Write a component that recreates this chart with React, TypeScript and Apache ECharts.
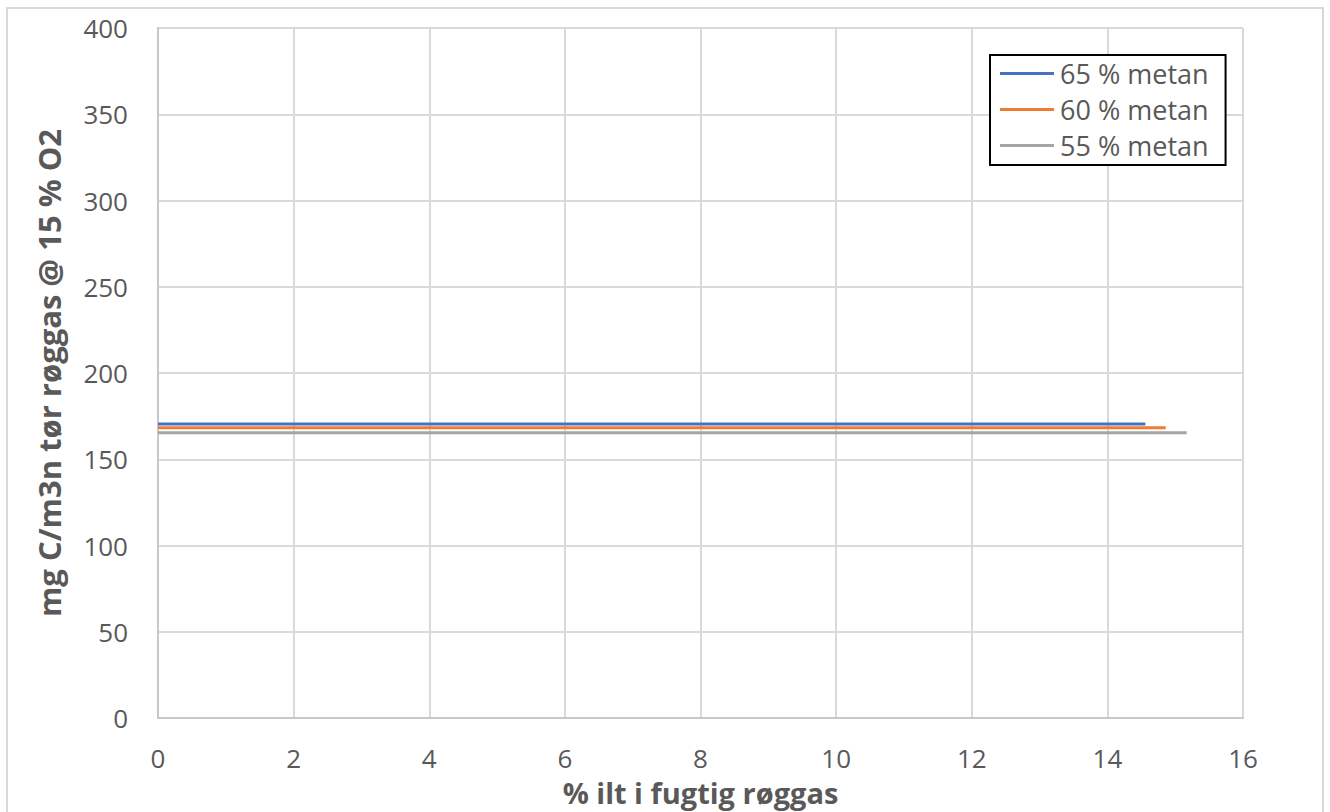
import React, { useEffect, useRef } from "react";
import * as echarts from "echarts";

const seriesNames = ["65 % metan", "60 % metan", "55 % metan"];
const seriesColors = ["#4472C4", "#ED7D31", "#A5A5A5"];
const xStart = [0, 0, 0];
const xEnd = [14.56, 14.86, 15.17];
const yValues = [170.4, 168.3, 165.4];
const xAxisTitle = "% ilt i fugtig røggas";
const yAxisTitle = "mg C/m3n tør røggas @ 15 % O2";

export default function App() {
  const ref = useRef<HTMLDivElement>(null);
  useEffect(() => {
    if (!ref.current) return;
    const chart = echarts.init(ref.current, null, { renderer: "svg" });
    const font = "'Open Sans', 'Noto Sans', sans-serif";
    chart.setOption({
      animation: false,
      backgroundColor: "#ffffff",
      textStyle: { fontFamily: font },
      graphic: [
        {
          type: "rect",
          shape: { x: 7, y: 8, width: 1316, height: 820 },
          style: { fill: "none", stroke: "#d9d9d9", lineWidth: 2 },
          silent: true,
        },
      ],
      grid: {
        left: 158,
        top: 28,
        right: 87,
        bottom: 94,
        containLabel: false,
        outerBoundsMode: "none",
      },
      legend: {
        left: 990,
        top: 55,
        orient: "vertical",
        backgroundColor: "#ffffff",
        borderColor: "#000000",
        borderWidth: 2,
        padding: [5, 17, 6, 10],
        itemGap: 9,
        itemWidth: 54,
        itemHeight: 3,
        icon: "rect",
        data: seriesNames,
        textStyle: { fontSize: 27, color: "#595959", fontFamily: font, padding: [0, 0, 0, 1] },
      },
      xAxis: {
        type: "value",
        min: 0,
        max: 16,
        interval: 2,
        name: xAxisTitle,
        nameLocation: "middle",
        nameGap: 60,
        nameTextStyle: { fontSize: 29, fontWeight: "bold", color: "#595959", fontFamily: font, lineHeight: 29 },
        axisLine: { show: true, lineStyle: { color: "#c8c8c8", width: 2 } },
        axisTick: { show: false },
        axisLabel: { fontSize: 26, color: "#595959", margin: 28, fontFamily: font, lineHeight: 24 },
        splitLine: { show: true, lineStyle: { color: "#d9d9d9", width: 2 } },
      },
      yAxis: {
        type: "value",
        min: 0,
        max: 400,
        interval: 50,
        name: yAxisTitle,
        nameLocation: "middle",
        nameGap: 94,
        nameRotate: 90,
        nameTextStyle: { fontSize: 31, fontWeight: "bold", color: "#595959", fontFamily: font },
        axisLine: { show: true, lineStyle: { color: "#c8c8c8", width: 2 } },
        axisTick: { show: false },
        axisLabel: { fontSize: 26, color: "#595959", margin: 30, fontFamily: font },
        splitLine: { show: true, lineStyle: { color: "#d9d9d9", width: 2 } },
      },
      series: seriesNames.map((name, i) => ({
        name,
        type: "line",
        data: [
          [xStart[i], yValues[i]],
          [xEnd[i], yValues[i]],
        ],
        showSymbol: false,
        symbol: "none",
        itemStyle: { color: seriesColors[i] },
        lineStyle: { color: seriesColors[i], width: 3, cap: "butt" },
      })),
    });
    return () => chart.dispose();
  }, []);
  return (
    <div
      ref={ref}
      style={{ position: "fixed", left: 0, top: 0, width: 1330, height: 812 }}
    />
  );
}
